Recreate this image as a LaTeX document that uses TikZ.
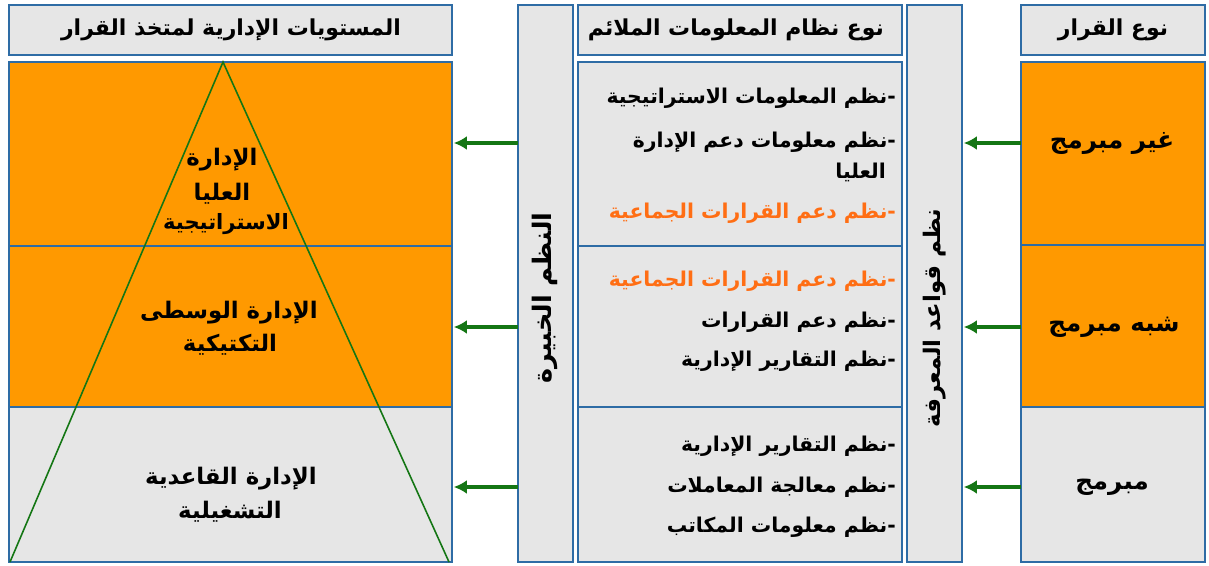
\documentclass[tikz,border=0pt]{standalone}
\usepackage{fontspec}
\newfontfamily\arabicfont[Script=Arabic]{DejaVu Sans}
\TeXXeTstate=1
\usetikzlibrary{arrows.meta}

\definecolor{lvorange}{RGB}{255,153,0}
\definecolor{lvgray}{RGB}{230,230,230}
\definecolor{frameblue}{RGB}{46,108,165}
\definecolor{arrowgreen}{RGB}{20,118,20}
\definecolor{groupdss}{RGB}{255,110,20}

\newcommand{\artext}[1]{\beginR #1\endR}

\tikzset{
  frame/.style={draw=frameblue,line width=1pt},
  link/.style={->,draw=arrowgreen,line width=1.8pt,shorten >=1pt},
  label/.style={font=\arabicfont\bfseries\fontsize{13}{15}\selectfont,inner sep=1pt},
  head/.style={font=\arabicfont\bfseries\fontsize{12.5}{14}\selectfont,inner sep=1pt},
  item/.style={anchor=east,font=\arabicfont\bfseries\fontsize{11.6}{14}\selectfont,inner sep=1pt},
}

\begin{document}
\begin{tikzpicture}[x=0.02cm,y=-0.02cm,>={Latex[length=7.5pt,width=8pt]}]
                \useasboundingbox (0,0) rectangle (1209,565);

                % left column: decision levels
                \draw[frame,fill=lvgray] (9,5) rectangle (452,55);
                \draw[frame,fill=lvorange] (9,62) rectangle (452,246);
                \draw[frame,fill=lvorange] (9,246) rectangle (452,407);
                \draw[frame,fill=lvgray] (9,407) rectangle (452,562);
                \draw[arrowgreen,line width=0.9pt] (10,562) -- (223,62) -- (449,562);

                % expert systems and knowledge bases
                \draw[frame,fill=lvgray] (518,5) rectangle (573,562);
                \draw[frame,fill=lvgray] (907,5) rectangle (962,562);

                % middle column: information systems
                \draw[frame,fill=lvgray] (578,5) rectangle (902,55);
                \draw[frame,fill=lvgray] (578,62) rectangle (902,246);
                \draw[frame,fill=lvgray] (578,246) rectangle (902,407);
                \draw[frame,fill=lvgray] (578,407) rectangle (902,562);

                % right column: decision types
                \draw[frame,fill=lvgray] (1021,5) rectangle (1205,55);
                \draw[frame,fill=lvorange] (1021,62) rectangle (1205,245);
                \draw[frame,fill=lvorange] (1021,245) rectangle (1205,407);
                \draw[frame,fill=lvgray] (1021,407) rectangle (1205,562);

                \coordinate (lvR) at (452,0);
                \coordinate (esL) at (518,0);
                \coordinate (kbR) at (962,0);
                \coordinate (dtL) at (1021,0);

                \node[head] (lvhead) at (231,30) {\artext{المستويات الإدارية لمتخذ القرار}};
                \node[head] (ishead) at (736,30) {\artext{نوع نظام المعلومات الملائم}};
                \node[head] (dthead) at (1113,30) {\artext{نوع القرار}};

                \node[label] (top1) at (222,160) {\artext{الإدارة}};
                \node[label] (top2) at (222,194) {\artext{العليا}};
                \node[label,font=\arabicfont\bfseries\fontsize{12}{14}\selectfont] (top3) at (226,224) {\artext{الاستراتيجية}};
                \node[label] (mid1) at (229,313) {\artext{الإدارة الوسطى}};
                \node[label] (mid2) at (230,345) {\artext{التكتيكية}};
                \node[label] (low1) at (231,479) {\artext{الإدارة القاعدية}};
                \node[label] (low2) at (230,512) {\artext{التشغيلية}};

                \node[label,font=\arabicfont\bfseries\fontsize{14.5}{16}\selectfont,rotate=90] (expert) at (545,298) {\artext{النظم الخبيرة}};
                \node[label,rotate=90] (kbase) at (935,318) {\artext{نظم قواعد المعرفة}};

                \node[item] (s1) at (898,98) {\artext{-نظم المعلومات الاستراتيجية}};
                \node[item] (s2) at (898,142) {\artext{-نظم معلومات دعم الإدارة}};
                \node[item] (s2b) at (888,172) {\artext{العليا}};
                \node[item,text=groupdss] (s3) at (898,213) {\artext{-نظم دعم القرارات الجماعية}};
                \node[item,text=groupdss] (t1) at (898,281) {\artext{-نظم دعم القرارات الجماعية}};
                \node[item] (t2) at (898,322) {\artext{-نظم دعم القرارات}};
                \node[item] (t3) at (898,361) {\artext{-نظم التقارير الإدارية}};
                \node[item] (o1) at (898,446) {\artext{-نظم التقارير الإدارية}};
                \node[item] (o2) at (898,487) {\artext{-نظم معالجة المعاملات}};
                \node[item] (o3) at (898,527) {\artext{-نظم معلومات المكاتب}};

                \node[label,font=\arabicfont\bfseries\fontsize{14}{16}\selectfont] (nonprog) at (1112,143) {\artext{غير مبرمج}};
                \node[label,font=\arabicfont\bfseries\fontsize{14}{16}\selectfont] (semiprog) at (1114,327) {\artext{شبه مبرمج}};
                \node[label,font=\arabicfont\bfseries\fontsize{14}{16}\selectfont] (prog) at (1112,487) {\artext{مبرمج}};

                \draw[link] (nonprog -| dtL) -- (nonprog -| kbR);
                \draw[link] (semiprog -| dtL) -- (semiprog -| kbR);
                \draw[link] (prog -| dtL) -- (prog -| kbR);
                \draw[link] (nonprog -| esL) -- (nonprog -| lvR);
                \draw[link] (semiprog -| esL) -- (semiprog -| lvR);
                \draw[link] (prog -| esL) -- (prog -| lvR);
\end{tikzpicture}
\end{document}
